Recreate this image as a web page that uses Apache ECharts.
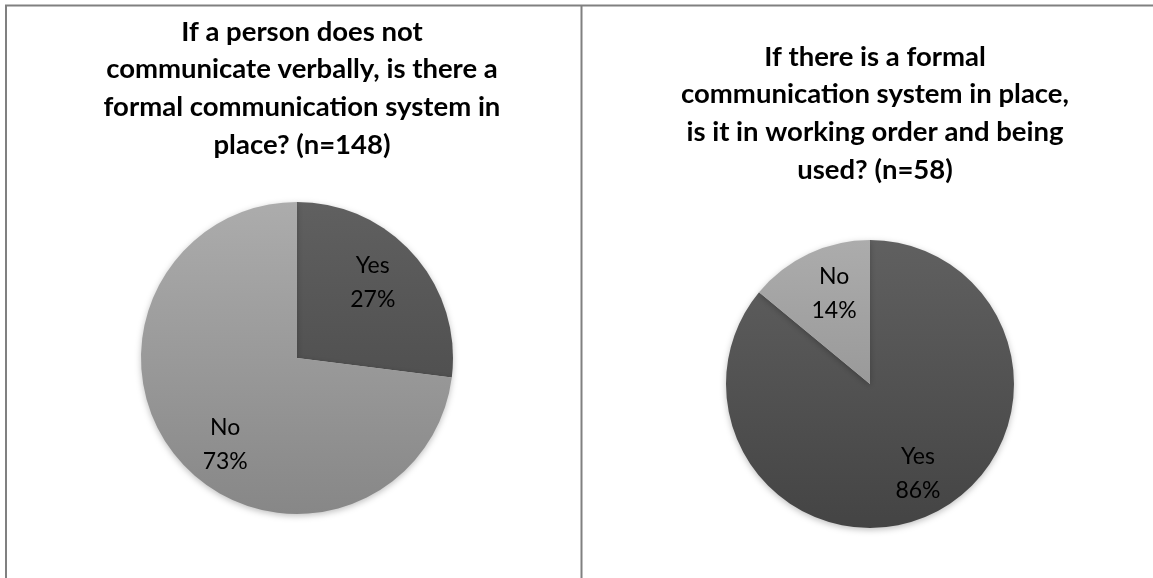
<!DOCTYPE html>
<html>
<head>
<meta charset="utf-8">
<style>
  html, body { margin: 0; padding: 0; background: #ffffff; }
  #chart { width: 1153px; height: 578px; }
</style>
<script src="https://cdn.jsdelivr.net/npm/echarts@6/dist/echarts.min.js"></script>
</head>
<body>
<div id="chart"></div>
<script>
// Survey answers, in percent
const categories = ['Yes', 'No'];
const verbalValues = [27, 73];     // formal system in place? (n=148)
const workingValues = [86, 14];    // in working order and used? (n=58)

const verbalTitle = 'If a person does not\ncommunicate verbally, is there a\nformal communication system in\nplace? (n=148)';
const workingTitle = 'If there is a formal\ncommunication system in place,\nis it in working order and being\nused? (n=58)';

// Slice shading: vertical gradient from top to bottom of each pie
const sliceShades = {
  Yes: ['#606060', '#444444'],
  No:  ['#acacac', '#878787']
};

// Pie geometry (pixels)
const leftPie  = { cx: 297, cy: 358, r: 156 };
const rightPie = { cx: 870, cy: 384, r: 144 };

// Nudges that move each label to its spot inside the slice
const leftLabelShift  = [[15, -22], [-11, 33]];
const rightLabelShift = [[16, 22], [-4, -23]];

function pieData(values, geo, shifts) {
  return categories.map(function (name, i) {
    const shade = sliceShades[name];
    return {
      name: name,
      value: values[i],
      itemStyle: {
        color: new echarts.graphic.LinearGradient(0, geo.cy - geo.r, 0, geo.cy + geo.r, [
          { offset: 0, color: shade[0] },
          { offset: 1, color: shade[1] }
        ], true)
      },
      label: { offset: shifts[i] }
    };
  });
}

function pieSeries(values, geo, shifts) {
  return {
    type: 'pie',
    center: [geo.cx, geo.cy],
    radius: [0, geo.r],
    startAngle: 90,
    clockwise: true,
    silent: true,
    animation: false,
    avoidLabelOverlap: false,
    itemStyle: {
      borderWidth: 0,
      shadowBlur: 6,
      shadowOffsetY: 2,
      shadowColor: 'rgba(0,0,0,0.25)'
    },
    label: {
      show: true,
      position: 'inside',
      formatter: '{b}\n{c}%',
      color: '#000000',
      fontFamily: 'Lato',
      fontSize: 23,
      lineHeight: 34,
      align: 'center'
    },
    labelLine: { show: false },
    data: pieData(values, geo, shifts)
  };
}

const titleStyle = {
  fontFamily: 'Lato',
  fontWeight: 'bold',
  fontSize: 27.5,
  lineHeight: 37.7,
  color: '#000000'
};

const chart = echarts.init(document.getElementById('chart'), null, { renderer: 'canvas' });
chart.setOption({
  backgroundColor: '#ffffff',
  animation: false,
  title: [
    { text: verbalTitle, left: 297, top: 8, textAlign: 'center', textStyle: titleStyle },
    { text: workingTitle, left: 870, top: 33, textAlign: 'center', textStyle: titleStyle }
  ],
  graphic: [
    { type: 'line', shape: { x1: 5, y1: 5.5, x2: 1153, y2: 5.5 }, style: { stroke: '#808080', lineWidth: 2 } },
    { type: 'line', shape: { x1: 6, y1: 5, x2: 6, y2: 578 }, style: { stroke: '#808080', lineWidth: 2 } },
    { type: 'line', shape: { x1: 581.5, y1: 5, x2: 581.5, y2: 578 }, style: { stroke: '#808080', lineWidth: 2 } }
  ],
  series: [
    pieSeries(verbalValues, leftPie, leftLabelShift),
    pieSeries(workingValues, rightPie, rightLabelShift)
  ]
});
</script>
</body>
</html>
